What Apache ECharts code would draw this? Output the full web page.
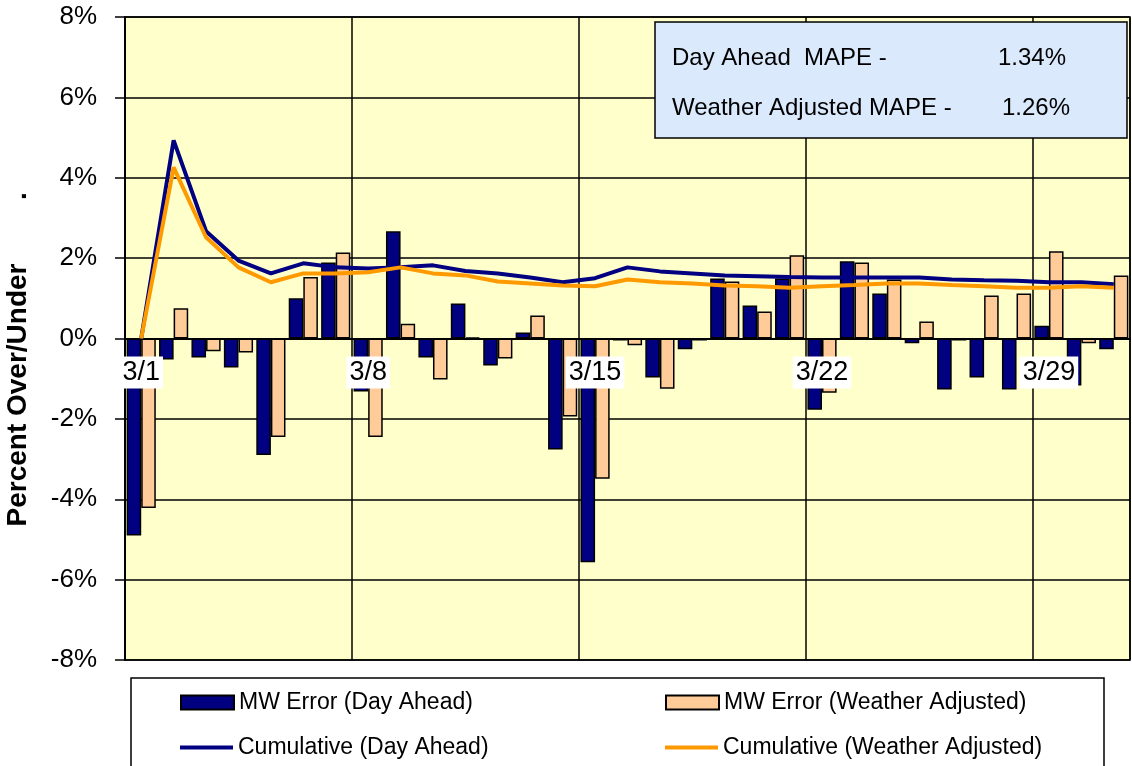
<!DOCTYPE html>
<html>
<head>
<meta charset="utf-8">
<script src="https://cdn.jsdelivr.net/npm/echarts@6/dist/echarts.min.js"></script>
<style>
html,body{margin:0;padding:0;background:#fff;}
#chart{width:1132px;height:766px;}
</style>
</head>
<body>
<div id="chart"></div>
<script>
var days = ['3/1','3/2','3/3','3/4','3/5','3/6','3/7','3/8','3/9','3/10','3/11','3/12','3/13','3/14','3/15','3/16','3/17','3/18','3/19','3/20','3/21','3/22','3/23','3/24','3/25','3/26','3/27','3/28','3/29','3/30','3/31'];
var dayAheadError = [-4.9, -0.52, -0.47, -0.72, -2.9, 1.0, 1.89, -1.32, 2.67, -0.47, 0.87, -0.67, 0.15, -2.76, -5.57, -0.05, -0.97, -0.27, 1.49, 0.82, 1.49, -1.77, 1.92, 1.12, -0.12, -1.27, -0.97, -1.27, 0.32, -1.17, -0.27];
var weatherAdjError = [-4.22, 0.75, -0.32, -0.35, -2.45, 1.53, 2.14, -2.45, 0.37, -1.02, 0.03, -0.5, 0.57, -1.94, -3.49, -0.17, -1.25, -0.05, 1.42, 0.67, 2.07, -1.35, 1.89, 1.47, 0.42, -0.05, 1.07, 1.12, 2.17, -0.12, 1.57];
var cumDayAhead = [0, 4.93, 2.67, 1.94, 1.62, 1.87, 1.77, 1.74, 1.77, 1.82, 1.68, 1.62, 1.52, 1.4, 1.5, 1.77, 1.67, 1.62, 1.57, 1.55, 1.53, 1.52, 1.52, 1.52, 1.52, 1.47, 1.45, 1.44, 1.4, 1.4, 1.35];
var cumWeatherAdj = [0, 4.26, 2.52, 1.77, 1.4, 1.62, 1.62, 1.65, 1.77, 1.62, 1.57, 1.42, 1.37, 1.32, 1.3, 1.47, 1.4, 1.37, 1.32, 1.3, 1.26, 1.3, 1.33, 1.37, 1.37, 1.33, 1.3, 1.26, 1.26, 1.3, 1.26];
var seriesNames = ['MW Error (Day Ahead)', 'MW Error (Weather Adjusted)', 'Cumulative (Day Ahead)', 'Cumulative (Weather Adjusted)'];
var yAxisTitle = 'Percent Over/Under';
var mapeLabels = ['Day Ahead  MAPE -', 'Weather Adjusted MAPE -'];
var mapeValues = ['1.34%', '1.26%'];

var FONT = '"Liberation Sans", Arial, sans-serif';
var chart = echarts.init(document.getElementById('chart'), null, {renderer: 'canvas'});

function legendAt(name, left, top, isBar) {
  return {
    data: [name], left: left, top: top, padding: 0,
    itemWidth: 53, itemHeight: isBar ? 14 : 4,
    icon: 'rect',
    selectedMode: false,
    textStyle: {fontFamily: FONT, fontSize: 23, color: '#000'}
  };
}

var option = {
  backgroundColor: '#fff',
  animation: false,
  textStyle: {fontFamily: FONT},
  grid: {left: 125, top: 17, width: 1005, height: 643, show: true,
         backgroundColor: '#FFFFCC', borderColor: '#000', borderWidth: 1.5},
  legend: [
    legendAt(seriesNames[0], 180, 691, true),
    legendAt(seriesNames[1], 665, 691, true),
    legendAt(seriesNames[2], 180, 736, false),
    legendAt(seriesNames[3], 665, 736, false)
  ],
  xAxis: {
    type: 'category', data: days, boundaryGap: true, z: 5,
    offset: -321.5,
    axisLine: {onZero: false, lineStyle: {color: '#000', width: 2}},
    axisTick: {show: false},
    axisLabel: {interval: 6, margin: 18, fontFamily: FONT, fontSize: 27, color: '#000',
                backgroundColor: '#fff', padding: [3, 3, 2, 3], lineHeight: 27},
    splitLine: {show: true, interval: 6, lineStyle: {color: '#000', width: 1.5}}
  },
  yAxis: {
    type: 'value', min: -8, max: 8, interval: 2,
    axisLine: {show: true, lineStyle: {color: '#000', width: 2}},
    axisTick: {show: true, inside: false, length: 10, lineStyle: {color: '#000', width: 1.5}},
    axisLabel: {formatter: '{value}%', margin: 28, fontFamily: FONT, fontSize: 26, color: '#000'},
    splitLine: {show: true, lineStyle: {color: '#000', width: 1.5}}
  },
  series: [
    {name: seriesNames[0], type: 'bar', data: dayAheadError, barGap: '0%', barCategoryGap: '10%',
     itemStyle: {color: '#000080', borderColor: '#000', borderWidth: 1.5}},
    {name: seriesNames[1], type: 'bar', data: weatherAdjError, barGap: '0%', barCategoryGap: '10%',
     itemStyle: {color: '#FFCC99', borderColor: '#000', borderWidth: 1.5}},
    {name: seriesNames[2], type: 'line', data: cumDayAhead, symbol: 'none', z: 6,
     lineStyle: {color: '#000080', width: 4}, itemStyle: {color: '#000080'}},
    {name: seriesNames[3], type: 'line', data: cumWeatherAdj, symbol: 'none', z: 6,
     lineStyle: {color: '#FF9900', width: 4}, itemStyle: {color: '#FF9900'}}
  ],
  graphic: [
    {type: 'rect', z: 0, silent: true, shape: {x: 131, y: 678, width: 973, height: 120},
     style: {fill: '#fff', stroke: '#000', lineWidth: 1.5}},
    {type: 'rect', z: 20, silent: true, shape: {x: 655, y: 22, width: 472, height: 116},
     style: {fill: '#DAE9FC', stroke: '#000', lineWidth: 1.5}},
    {type: 'text', z: 21, silent: true, x: 672, y: 58,
     style: {text: mapeLabels[0], font: '24px ' + FONT, fill: '#000', textVerticalAlign: 'middle'}},
    {type: 'text', z: 21, silent: true, x: 998, y: 58,
     style: {text: mapeValues[0], font: '24px ' + FONT, fill: '#000', textVerticalAlign: 'middle'}},
    {type: 'text', z: 21, silent: true, x: 672, y: 108,
     style: {text: mapeLabels[1], font: '24px ' + FONT, fill: '#000', textVerticalAlign: 'middle'}},
    {type: 'text', z: 21, silent: true, x: 1002, y: 108,
     style: {text: mapeValues[1], font: '24px ' + FONT, fill: '#000', textVerticalAlign: 'middle'}},
    {type: 'text', z: 21, silent: true, x: 18, y: 395, rotation: Math.PI / 2,
     style: {text: yAxisTitle, font: 'bold 28px ' + FONT, fill: '#000', textAlign: 'center', textVerticalAlign: 'middle'}},
    {type: 'text', z: 21, silent: true, x: 18, y: 196, rotation: Math.PI / 2,
     style: {text: '.', font: 'bold 28px ' + FONT, fill: '#000', textAlign: 'center', textVerticalAlign: 'middle'}}
  ]
};
chart.setOption(option);
</script>
</body>
</html>
